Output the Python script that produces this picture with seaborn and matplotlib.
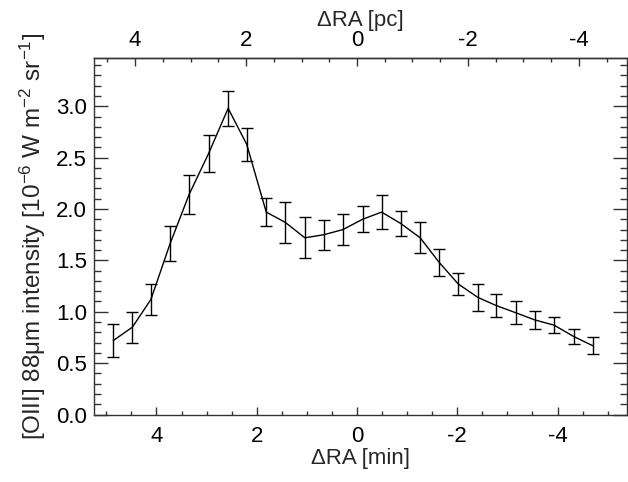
import numpy as np
import pandas as pd
import matplotlib
matplotlib.use("Agg")
import matplotlib.pyplot as plt
import seaborn as sns
from matplotlib.ticker import MultipleLocator

# Data
dra_min = [4.86, 4.48, 4.11, 3.73, 3.35, 2.96, 2.57, 2.20, 1.81, 1.43, 1.04, 0.66, 0.28,
           -0.11, -0.49, -0.87, -1.26, -1.64, -2.02, -2.41, -2.78, -3.17, -3.55, -3.93,
           -4.32, -4.70]
intensity = [0.72, 0.85, 1.12, 1.66, 2.14, 2.54, 2.98, 2.63, 1.97, 1.87, 1.72, 1.75, 1.80,
             1.90, 1.97, 1.86, 1.72, 1.48, 1.27, 1.14, 1.06, 0.99, 0.92, 0.87, 0.76, 0.67]
err = [0.165, 0.15, 0.15, 0.17, 0.19, 0.18, 0.17, 0.16, 0.14, 0.20, 0.20, 0.145, 0.15,
       0.125, 0.165, 0.12, 0.15, 0.135, 0.11, 0.135, 0.11, 0.11, 0.09, 0.075, 0.075, 0.08]
bottom_ticks = [4, 2, 0, -2, -4]
top_ticks = [4, 2, 0, -2, -4]
y_ticks = [0.0, 0.5, 1.0, 1.5, 2.0, 2.5, 3.0]
pc_per_min = 0.904

df = pd.DataFrame({"dra": dra_min, "I": intensity, "err": err})

sns.set_theme(style="ticks")
plt.rcParams['font.family'] = ['Liberation Sans', 'DejaVu Sans']
plt.rcParams['mathtext.fontset'] = 'custom'
plt.rcParams['mathtext.rm'] = 'Liberation Sans'
plt.rcParams['mathtext.it'] = 'Liberation Sans'

fig = plt.figure(figsize=(6.28, 4.82), dpi=100)
ax = fig.add_axes([0.1497, 0.14, 0.8487, 0.7397])

sns.lineplot(data=df, x="dra", y="I", ax=ax, color="black", linewidth=1.0,
             sort=False, estimator=None)
ax.errorbar(df["dra"], df["I"], yerr=df["err"], fmt="none", ecolor="black",
            elinewidth=1.0, capsize=4, capthick=1.0)

ax.set_xlim(5.245, -5.385)
ax.set_ylim(0.0, 3.47)
ax.set_xticks(bottom_ticks)
ax.set_xticklabels([str(t) for t in bottom_ticks])
ax.xaxis.set_minor_locator(MultipleLocator(0.5))
ax.set_yticks(y_ticks)
ax.set_yticklabels([f"{t:.1f}" for t in y_ticks])
ax.yaxis.set_minor_locator(MultipleLocator(0.1))

fs = 16
ax.tick_params(axis="x", which="major", direction="in", length=6, width=1,
               labelsize=fs, pad=8, top=False, color="#333333", labelcolor="black")
ax.tick_params(axis="x", which="minor", direction="in", length=3, width=1,
               top=False, color="#333333")
ax.tick_params(axis="y", which="major", direction="in", length=10, width=1,
               labelsize=fs, pad=5, right=True, color="#333333", labelcolor="black")
ax.tick_params(axis="y", which="minor", direction="in", length=5, width=1,
               right=True, color="#333333")
for s in ax.spines.values():
    s.set_visible(True)
    s.set_linewidth(1.0)
    s.set_color("#333333")

ax.set_xlabel("ΔRA [min]", fontsize=fs, labelpad=1)
ax.set_ylabel("[OIII] 88μm intensity [10$^{-6}$ W m$^{-2}$ sr$^{-1}$]",
              fontsize=17.5, labelpad=6)

sec = ax.secondary_xaxis("top", functions=(lambda m: m * pc_per_min,
                                           lambda p: p / pc_per_min))
sec.set_xticks(top_ticks)
sec.set_xticklabels([str(t) for t in top_ticks])
sec.xaxis.set_minor_locator(MultipleLocator(0.5))
sec.tick_params(axis="x", which="major", direction="in", length=6, width=1,
                labelsize=fs, pad=5, color="#333333", labelcolor="black")
sec.tick_params(axis="x", which="minor", direction="in", length=3, width=1,
                color="#333333")
sec.set_xlabel("ΔRA [pc]", fontsize=fs, labelpad=3)
sec.spines["top"].set_linewidth(1.0)
sec.spines["top"].set_color("#333333")

fig.savefig("out.png", dpi=100)
